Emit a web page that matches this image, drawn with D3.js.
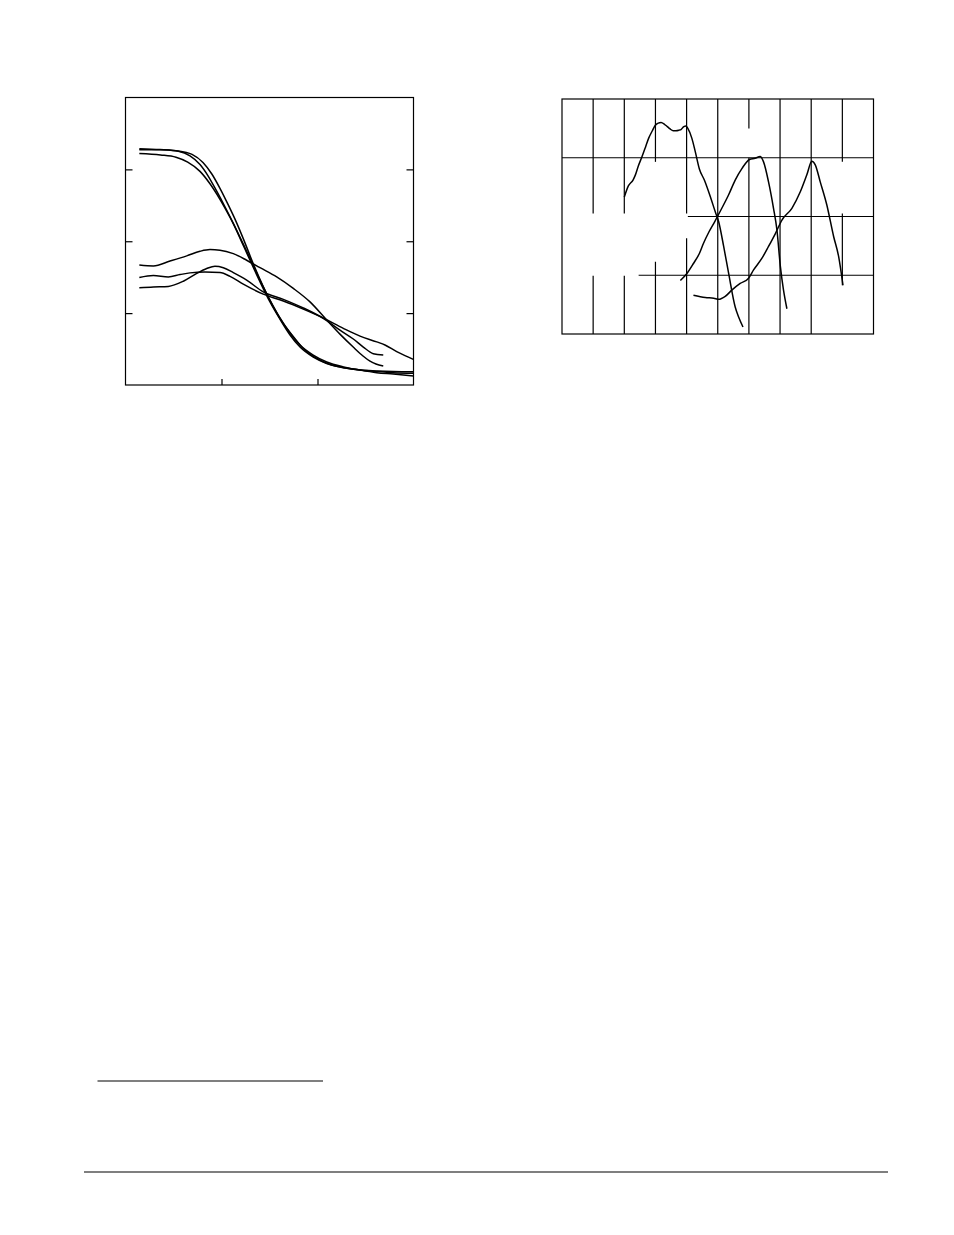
<!DOCTYPE html>
<html>
<head>
<meta charset="utf-8">
<script src="https://cdn.jsdelivr.net/npm/d3@7"></script>
<style>
  body { margin: 0; background: #fff; }
  svg { display: block; }
</style>
</head>
<body>
<div class="page"></div>
<script>
let w = 954;
let h = 1235;

// ---- left chart: six falling curves (x 0-300, y 0-100) ----
let leftX = {
  A: [14.4, 35.9, 55.0, 67.2, 77.6, 86.3, 95.0, 103.6, 112.3, 121.0, 129.7, 140.1, 150.5, 160.9, 171.4, 181.8, 195.6, 209.6, 226.9, 244.3, 261.7, 279.0, 300],
  B: [14.4, 35.9, 55.0, 69.3, 80.7, 90.1, 98.4, 106.8, 115.1, 123.4, 132.8, 143.2, 153.6, 164.1, 174.5, 184.9, 198.4, 213.0, 228.6, 244.3, 261.7, 279.0, 300],
  C: [14.4, 36.5, 52.6, 64.8, 77.6, 88.0, 98.4, 108.9, 119.3, 129.7, 140.1, 150.5, 160.9, 171.4, 181.8, 195.6, 209.6, 226.9, 244.3, 261.7, 279.0, 300],
  D: [14.4, 29.0, 46.4, 63.8, 77.6, 88.0, 98.4, 112.3, 126.2, 140.1, 157.5, 174.8, 192.2, 209.6, 223.4, 237.2, 247.4, 254.7, 260.9, 268.5],
  E: [14.4, 29.0, 44.6, 56.8, 67.2, 82.8, 98.4, 108.9, 122.7, 143.5, 164.4, 185.2, 206.0, 226.9, 244.3, 261.7, 270.3, 282.5, 291.1, 299.8],
  F: [14.4, 29.0, 44.6, 60.3, 74.2, 84.6, 93.2, 101.9, 112.3, 126.2, 143.5, 164.4, 185.2, 206.0, 223.4, 237.3, 247.7, 258.1, 268.5]
};
let leftY = {
  A: [82.2, 81.9, 81.3, 79.7, 76.7, 72.6, 67.4, 62.0, 56.2, 49.8, 43.4, 35.9, 28.9, 22.9, 17.4, 13.2, 9.7, 7.5, 6.1, 5.2, 4.7, 4.3, 4.1],
  B: [81.8, 81.8, 81.4, 80.2, 77.4, 73.3, 68.4, 62.8, 56.9, 50.3, 42.4, 34.4, 27.4, 21.5, 17.0, 12.8, 9.4, 7.1, 5.9, 5.2, 4.9, 4.7, 4.6],
  C: [80.5, 80.0, 79.2, 77.5, 74.3, 70.0, 64.6, 58.3, 51.4, 44.1, 36.5, 29.5, 23.3, 18.1, 13.9, 10.4, 8.0, 6.3, 5.2, 4.3, 3.8, 3.1],
  D: [41.7, 41.4, 43.1, 44.9, 46.5, 47.1, 46.9, 45.7, 43.4, 40.8, 37.6, 33.6, 28.9, 22.6, 17.7, 13.2, 10.1, 8.3, 7.3, 6.6],
  E: [37.4, 38.1, 37.6, 38.4, 39.0, 39.3, 39.1, 37.8, 35.1, 31.6, 29.2, 26.4, 23.3, 19.7, 17.0, 15.0, 13.9, 11.6, 10.2, 8.9],
  F: [33.8, 34.1, 34.3, 36.1, 38.8, 40.5, 41.3, 40.8, 39.1, 36.5, 32.4, 29.8, 26.8, 23.2, 19.1, 16.0, 13.2, 10.9, 10.4]
};
let leftXTicks = [100, 200];
let leftYTicks = [25, 50, 75];

// ---- right chart: three peaked curves on a 10 x 4 grid ----
let rightX = {
  blue: [2.00, 2.13, 2.28, 2.35, 2.45, 2.57, 2.68, 2.78, 2.90, 2.99, 3.09, 3.18, 3.29, 3.38, 3.47, 3.57, 3.66, 3.76, 3.82, 3.91, 3.98, 4.04, 4.17, 4.28, 4.41, 4.57, 4.76, 4.92, 5.03, 5.19, 5.35, 5.56, 5.67, 5.81],
  green: [3.80, 4.01, 4.22, 4.41, 4.54, 4.72, 4.90, 5.13, 5.35, 5.56, 5.78, 6.02, 6.20, 6.36, 6.47, 6.63, 6.79, 6.90, 7.01, 7.11, 7.22],
  red: [4.22, 4.60, 4.87, 5.03, 5.24, 5.46, 5.72, 5.99, 6.15, 6.42, 6.63, 6.85, 7.06, 7.38, 7.65, 7.86, 8.02, 8.13, 8.29, 8.50, 8.72, 8.88, 9.02]
};
let rightY = {
  blue: [2.33, 2.52, 2.62, 2.70, 2.86, 3.02, 3.18, 3.33, 3.46, 3.55, 3.59, 3.60, 3.57, 3.53, 3.49, 3.46, 3.46, 3.47, 3.48, 3.53, 3.54, 3.50, 3.33, 3.10, 2.81, 2.62, 2.34, 2.08, 1.91, 1.49, 1.03, 0.46, 0.29, 0.12],
  green: [0.91, 1.03, 1.20, 1.37, 1.54, 1.74, 1.91, 2.14, 2.37, 2.62, 2.82, 2.97, 2.99, 3.02, 2.93, 2.59, 2.14, 1.77, 1.15, 0.75, 0.43],
  red: [0.66, 0.62, 0.61, 0.59, 0.64, 0.75, 0.86, 0.95, 1.09, 1.29, 1.49, 1.71, 1.94, 2.14, 2.42, 2.71, 2.94, 2.88, 2.59, 2.20, 1.66, 1.32, 0.83]
};
// grid lines, broken where the original labels sat: [value, from, to]
let rightVGrid = [[1, 0, 0.99], [1, 2.05, 4], [2, 0, 0.99], [2, 2.05, 4], [3, 0, 1.23], [3, 2.93, 4],
                  [4, 0, 1.63], [4, 2.05, 4], [5, 0, 4], [6, 0, 3], [6, 3.5, 4], [7, 0, 4], [8, 0, 4],
                  [9, 0.83, 2.05], [9, 2.93, 4]];
let rightHGrid = [[1, 2.46, 10], [2, 4.04, 10], [3, 0, 10]];

let svg = d3.select(".page")
            .append("svg")
            .attr("width", w)
            .attr("height", h);

svg.append("rect").attr("width", w).attr("height", h).attr("fill", "#fff");

//   Left chart
let lx = d3.scaleLinear([0, 300], [125.5, 413.5]);
let ly = d3.scaleLinear([0, 100], [385, 97.5]);

let left = svg.append("g").attr("id", "left-chart");

left.append("rect")
    .attr("x", lx(0))
    .attr("y", ly(100))
    .attr("width", lx(300) - lx(0))
    .attr("height", ly(0) - ly(100))
    .attr("fill", "none")
    .attr("stroke", "#000")
    .attr("stroke-width", 1.2);

// inward ticks, no labels
left.append("g")
    .attr("transform", `translate(0,${ly(0)})`)
    .call(d3.axisTop(lx).tickValues(leftXTicks).tickSize(6).tickFormat(""));
left.append("g")
    .attr("transform", `translate(${lx(0)},0)`)
    .call(d3.axisRight(ly).tickValues(leftYTicks).tickSize(7).tickFormat(""));
left.append("g")
    .attr("transform", `translate(${lx(300)},0)`)
    .call(d3.axisLeft(ly).tickValues(leftYTicks).tickSize(7).tickFormat(""));
left.selectAll(".domain").remove();
left.selectAll(".tick line").attr("stroke", "#000").attr("stroke-width", 1.2);

let leftLine = d3.line()
                 .x((d) => lx(d[0]))
                 .y((d) => ly(d[1]))
                 .curve(d3.curveMonotoneX);

left.selectAll("path.curve")
    .data(Object.keys(leftX))
    .enter()
    .append("path")
    .attr("class", "curve")
    .attr("d", (k) => leftLine(d3.zip(leftX[k], leftY[k])))
    .attr("fill", "none")
    .attr("stroke", "#000")
    .attr("stroke-width", 1.5);

//   Right chart
let rx = d3.scaleLinear([0, 10], [562, 873.5]);
let ry = d3.scaleLinear([0, 4], [334, 99]);

let right = svg.append("g").attr("id", "right-chart");

right.selectAll("line.vgrid")
     .data(rightVGrid)
     .enter()
     .append("line")
     .attr("class", "vgrid")
     .attr("x1", (d) => rx(d[0]))
     .attr("x2", (d) => rx(d[0]))
     .attr("y1", (d) => ry(d[1]))
     .attr("y2", (d) => ry(d[2]))
     .attr("stroke", "#000")
     .attr("stroke-width", 1.2);

right.selectAll("line.hgrid")
     .data(rightHGrid)
     .enter()
     .append("line")
     .attr("class", "hgrid")
     .attr("y1", (d) => ry(d[0]))
     .attr("y2", (d) => ry(d[0]))
     .attr("x1", (d) => rx(d[1]))
     .attr("x2", (d) => rx(d[2]))
     .attr("stroke", "#000")
     .attr("stroke-width", 1.2);

right.append("rect")
     .attr("x", rx(0))
     .attr("y", ry(4))
     .attr("width", rx(10) - rx(0))
     .attr("height", ry(0) - ry(4))
     .attr("fill", "none")
     .attr("stroke", "#000")
     .attr("stroke-width", 1.2);

let rightLine = d3.line()
                  .x((d) => rx(d[0]))
                  .y((d) => ry(d[1]))
                  .curve(d3.curveMonotoneX);

right.selectAll("path.curve")
     .data(Object.keys(rightX))
     .enter()
     .append("path")
     .attr("class", "curve")
     .attr("d", (k) => rightLine(d3.zip(rightX[k], rightY[k])))
     .attr("fill", "none")
     .attr("stroke", "#000")
     .attr("stroke-width", 1.5);

//   Page rules: footnote separator and footer line
svg.append("line")
   .attr("x1", 97.5).attr("x2", 323)
   .attr("y1", 1081).attr("y2", 1081)
   .attr("stroke", "#000").attr("stroke-width", 1.2);

svg.append("line")
   .attr("x1", 84).attr("x2", 888)
   .attr("y1", 1172).attr("y2", 1172)
   .attr("stroke", "#000").attr("stroke-width", 1.2);
</script>
</body>
</html>
